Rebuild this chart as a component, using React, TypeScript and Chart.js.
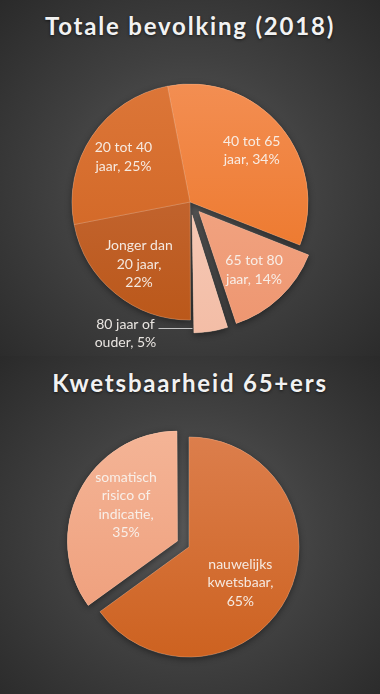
import React, { useEffect, useRef } from 'react';
import { Chart, registerables } from 'chart.js';

Chart.register(...registerables);

// ---------- data ----------
const topTitle = 'Totale bevolking (2018)';
const topCategories = ['40 tot 65 jaar', '65 tot 80 jaar', '80 jaar of ouder', 'Jonger dan 20 jaar', '20 tot 40 jaar'];
const topValues = [34, 14, 5, 22, 25];

const bottomTitle = 'Kwetsbaarheid 65+ers';
const bottomCategories = ['nauwelijks kwetsbaar', 'somatisch risico of indicatie'];
const bottomValues = [65, 35];

// ---------- styles ----------
const topColorsLight = ['#F38E52', '#F3AE8F', '#F9D3C3', '#C86E40', '#DC7638'];
const topColorsDark = ['#EB7222', '#EE9670', '#F3BDA6', '#BB581A', '#CE621F'];
const topOffsets = [0, 52, 52, 0, 0];
const topOutside = [false, false, true, false, false];

const bottomColorsLight = ['#DC7E4C', '#F4B496'];
const bottomColorsDark = ['#CD6220', '#EE9C78'];
const bottomOffsets = [0, 52];
const bottomOutside = [false, false];

const LABEL_FONT = '14px Lato, "Open Sans", sans-serif';

function wrapText(ctx: CanvasRenderingContext2D, text: string, maxW: number): string[] {
  const words = text.split(' ');
  const lines: string[] = [];
  let cur = '';
  for (const w of words) {
    const test = cur ? cur + ' ' + w : w;
    if (cur && ctx.measureText(test).width > maxW) {
      lines.push(cur);
      cur = w;
    } else cur = test;
  }
  if (cur) lines.push(cur);
  return lines;
}

// Chart.js grows the radius of exploded slices; this keeps every slice at the same radius.
function radiusGrowth(arc: any) {
  const off = (arc.options.offset || 0) / 4;
  return off * (1 - Math.sin(Math.min(Math.PI, arc.circumference)));
}

const piePlugin = {
  id: 'pieExtras',
  afterDatasetsUpdate(chart: any) {
    const meta = chart.getDatasetMeta(0);
    meta.data.forEach((arc: any) => {
      arc.outerRadius = arc.outerRadius - radiusGrowth(arc);
    });
  },
  beforeDatasetsDraw(chart: any) {
    const ctx = chart.ctx;
    const meta = chart.getDatasetMeta(0);
    meta.data.forEach((arc: any) => {
      ctx.save();
      ctx.shadowColor = 'rgba(0,0,0,0.45)';
      ctx.shadowBlur = 7;
      ctx.shadowOffsetY = 2;
      arc.draw(ctx);
      ctx.restore();
    });
  },
  afterDatasetsDraw(chart: any, _args: any, opts: any) {
    const ctx: CanvasRenderingContext2D = chart.ctx;
    const meta = chart.getDatasetMeta(0);
    const ds = chart.data.datasets[0];
    ctx.save();
    ctx.font = LABEL_FONT;
    ctx.textAlign = 'center';
    ctx.textBaseline = 'middle';
    const lh = 18.5;
    const shift = (opts.angleShift * Math.PI) / 180;
    meta.data.forEach((arc: any, i: number) => {
      const off = (arc.options.offset || 0) / 4;
      const mid = (arc.startAngle + arc.endAngle) / 2;
      const cx = arc.x + Math.cos(mid) * off;
      const cy = arc.y + Math.sin(mid) * off;
      const R = arc.outerRadius + radiusGrowth(arc);
      const text = `${chart.data.labels[i]}, ${ds.data[i]}%`;
      const lines = wrapText(ctx, text, opts.maxWidth);
      let lx: number;
      let ly: number;
      if (opts.outside[i]) {
        const ex = cx + Math.cos(arc.endAngle) * R * 0.96;
        const ey = Math.round(cy + Math.sin(arc.endAngle) * R * 0.96) + 0.5;
        const sx = ex - 34;
        ctx.strokeStyle = 'rgba(210,210,210,0.9)';
        ctx.lineWidth = 1;
        ctx.beginPath();
        ctx.moveTo(sx, ey);
        ctx.lineTo(ex, ey);
        ctx.stroke();
        lx = sx - 33;
        ly = ey + 5;
      } else {
        const a = mid + shift;
        lx = cx + Math.cos(a) * R * opts.radial;
        ly = cy + Math.sin(a) * R * opts.radial;
      }
      ctx.fillStyle = 'rgba(248,244,240,0.92)';
      lines.forEach((ln, k) => ctx.fillText(ln, lx, ly + (k - (lines.length - 1) / 2) * lh));
    });
    ctx.restore();
  },
};

function gradientFor(light: string[], dark: string[], radius: number) {
  return (c: any) => {
    const chart = c.chart;
    const area = chart.chartArea;
    const i = c.dataIndex ?? 0;
    if (!area) return dark[i];
    const cy = (area.top + area.bottom) / 2;
    const g = chart.ctx.createLinearGradient(0, cy - radius, 0, cy + radius);
    g.addColorStop(0, light[i]);
    g.addColorStop(1, dark[i]);
    return g;
  };
}

function PieChart(props: {
  labels: string[];
  values: number[];
  light: string[];
  dark: string[];
  offsets: number[];
  outside: boolean[];
  rotation: number;
  radius: number;
  radial: number;
  angleShift: number;
  width: number;
  height: number;
  style: React.CSSProperties;
}) {
  const ref = useRef<HTMLCanvasElement>(null);
  useEffect(() => {
    if (!ref.current) return;
    const chart = new Chart(ref.current, {
      type: 'pie',
      data: {
        labels: props.labels,
        datasets: [
          {
            data: props.values,
            backgroundColor: gradientFor(props.light, props.dark, props.radius),
            borderColor: 'rgba(255,225,200,0.25)',
            borderWidth: 0.75,
            offset: props.offsets,
            radius: props.radius,
          } as any,
        ],
      },
      options: {
        responsive: false,
        animation: false,
        rotation: props.rotation,
        layout: { padding: 0 },
        plugins: {
          legend: { display: false },
          title: { display: false },
          tooltip: { enabled: false },
          pieExtras: {
            maxWidth: 72,
            outside: props.outside,
            radial: props.radial,
            angleShift: props.angleShift,
          },
        } as any,
      },
      plugins: [piePlugin as any],
    });
    return () => chart.destroy();
  }, []);
  return (
    <canvas
      ref={ref}
      width={props.width}
      height={props.height}
      style={{ position: 'absolute', ...props.style }}
    />
  );
}

const titleStyle: React.CSSProperties = {
  position: 'absolute',
  left: 0,
  width: 380,
  textAlign: 'center',
  color: '#F2F2F2',
  font: 'bold 24px Lato, "Open Sans", sans-serif',
  lineHeight: '28px',
  letterSpacing: '1.8px',
  textShadow: '0 1px 3px rgba(0,0,0,0.6)',
  whiteSpace: 'nowrap',
};

const bg = 'radial-gradient(ellipse farthest-corner at 50% 52%, #5a5a5a 0%, #404040 50%, #2a2a2a 100%)';

export default function App() {
  return (
    <div style={{ position: 'absolute', left: 0, top: 0, width: 380, height: 694, overflow: 'hidden', background: '#2c2c2c' }}>
      <div style={{ position: 'absolute', left: 0, top: 0, width: 380, height: 356, background: bg }} />
      <div style={{ position: 'absolute', left: 0, top: 356, width: 380, height: 338, background: bg }} />
      <div style={{ ...titleStyle, top: 12 }}>{topTitle}</div>
      <div style={{ ...titleStyle, top: 369 }}>{bottomTitle}</div>
      <PieChart
        labels={topCategories}
        values={topValues}
        light={topColorsLight}
        dark={topColorsDark}
        offsets={topOffsets}
        outside={topOutside}
        rotation={-11}
        radius={118}
        radial={0.68}
        angleShift={0}
        width={380}
        height={300}
        style={{ left: 0, top: 52 }}
      />
      <PieChart
        labels={bottomCategories}
        values={bottomValues}
        light={bottomColorsLight}
        dark={bottomColorsDark}
        offsets={bottomOffsets}
        outside={bottomOutside}
        rotation={0}
        radius={110}
        radial={0.57}
        angleShift={8}
        width={378}
        height={280}
        style={{ left: 0, top: 407 }}
      />
    </div>
  );
}
